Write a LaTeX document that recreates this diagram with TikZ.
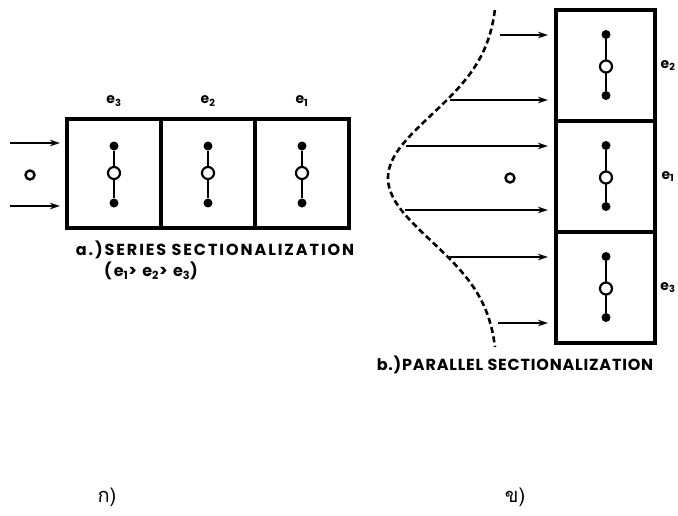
\documentclass[tikz,border=0pt]{standalone}
\usepackage{fontspec}
\setmainfont{Poppins}
\newfontfamily\labfont[LetterSpace=12]{Poppins}
\newfontfamily\labfontb[LetterSpace=5]{Poppins}
\newfontfamily\thaifont[Script=Thai]{Loma}
\usetikzlibrary{arrows.meta}
\begin{document}
\begin{tikzpicture}[x=1pt,y=-1pt,
  frame/.style={draw, line width=3.2pt, inner sep=0},
  rod/.style={line width=2pt},
  dot/.style={circle, fill, inner sep=0, minimum size=9pt},
  ring/.style={circle, draw, line width=2.2pt, fill=white, inner sep=0, minimum size=12pt},
  flow/.style={-{Stealth[length=10pt,width=6.5pt]}, line width=2.6pt},
  lab/.style={font=\labfont\bfseries\fontsize{16}{16}\selectfont, inner sep=0},
  labb/.style={font=\labfontb\bfseries\fontsize{16}{16}\selectfont, inner sep=0},
  elab/.style={font=\bfseries\fontsize{14}{14}\selectfont, inner sep=0},
  src/.style={circle, draw, line width=2.4pt, inner sep=0, minimum size=9pt},
  thcaption/.style={font=\thaifont\fontsize{20}{20}\selectfont, inner sep=0}]
\useasboundingbox (0,0) rectangle (678,515);

% ---- series sectionalization ----
\foreach \n/\cx/\e in {A/114/3, B/208/2, C/302/1}{
  \node[frame, minimum width=94pt, minimum height=109pt] (s\n) at (\cx,173.5) {};
  \node[dot] (s\n t) at (\cx,146) {};
  \node[dot] (s\n b) at (\cx,203) {};
  \draw[rod] (s\n t) -- (s\n b);
  \node[ring] (s\n r) at (\cx,173) {};
  \node[elab] (s\n e) at (\cx,101) {e$_{\mathbf{\e}}$};
}
\node[src] (so) at (30,175) {};
\coordinate (la1) at (10,143);
\coordinate (lb1) at (60,143);
\coordinate (la2) at (10,206);
\coordinate (lb2) at (60,206);
\draw[flow] (la1) -- (lb1);
\draw[flow] (la2) -- (lb2);
\node[lab] (tA) at (215,250) {a.)SERIES SECTIONALIZATION};
\node[lab] (tA2) at (151,271) {(e$_{\mathbf 1}$> e$_{\mathbf 2}$> e$_{\mathbf 3}$)};

% ---- parallel sectionalization ----
\foreach \n/\cy/\e in {A/65.5/2, B/176.5/1, C/287.5/3}{
  \node[frame, minimum width=99pt, minimum height=111pt] (p\n) at (605.5,\cy) {};
  \node[dot] (p\n t) at (606,\cy-31) {};
  \node[dot] (p\n b) at (606,\cy+30) {};
  \draw[rod] (p\n t) -- (p\n b);
  \node[ring] (p\n r) at (606,\cy+1) {};
  \node[elab] (p\n e) at (668,\cy) {e$_{\mathbf{\e}}$};
}
\node[src] (po) at (510,178) {};
\draw[line width=2.6pt, dash pattern=on 6pt off 3.5pt]
  plot[domain=10:347, samples=90, smooth] ({498-110*exp(-0.5*((\x-178)/63)^2)}, \x);
\foreach \i/\y/\xs in {1/35/500, 2/100/450, 3/146/406, 4/210/405, 5/257/448, 6/323/498}{
  \coordinate (pa\i) at (\xs,\y);
  \coordinate (pb\i) at (548,\y);
  \draw[flow] (pa\i) -- (pb\i);
}
\node[labb] (tB) at (515,365) {b.)PARALLEL SECTIONALIZATION};

% ---- captions ----
\node[thcaption] (ca) at (107,497) {ก)};
\node[thcaption] (cb) at (515,497) {ข)};
\end{tikzpicture}
\end{document}
